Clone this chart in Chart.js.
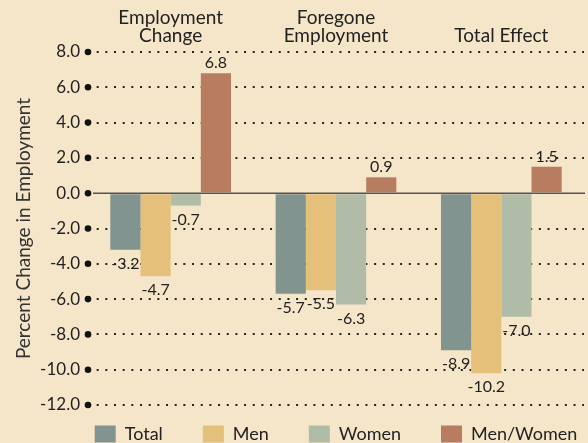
<!DOCTYPE html>
<html>
<head>
<meta charset="utf-8">
<script src="https://cdn.jsdelivr.net/npm/chart.js@4.4.1/dist/chart.umd.min.js"></script>
<style>
    html, body { margin: 0; padding: 0; background: #f5e6ca; }
    #wrap { width: 588px; height: 443px; position: relative; }
</style>
</head>
<body>
<div id="wrap"><canvas id="employment-chart"></canvas></div>
<script>
// Chart data
const categories = [['Employment', 'Change'], ['Foregone', 'Employment'], 'Total Effect'];
const seriesNames = ['Total', 'Men', 'Women', 'Men/Women'];
const totalValues = [-3.2, -5.7, -8.9];
const menValues = [-4.7, -5.5, -10.2];
const womenValues = [-0.7, -6.3, -7.0];
const ratioValues = [6.8, 0.9, 1.5];
const yMin = -12;
const yMax = 8;
const yStep = 2;

const seriesColors = ['#82948f', '#e4c07b', '#b0bca7', '#b87c61'];
const fontFamily = 'Lato, "Open Sans", sans-serif';
const textColor = '#222';

// big dots at each tick + solid zero line
const axisDecor = {
    id: 'axisDecor',
    afterDatasetsDraw(chart) {
        const ctx = chart.ctx;
        const y = chart.scales.y;
        const area = chart.chartArea;
        ctx.save();
        ctx.fillStyle = '#111';
        y.ticks.forEach(t => {
            ctx.beginPath();
            ctx.arc(area.left, y.getPixelForValue(t.value), 3.3, 0, Math.PI * 2);
            ctx.fill();
        });
        const zero = y.getPixelForValue(0);
        ctx.strokeStyle = '#555';
        ctx.lineWidth = 1.5;
        ctx.beginPath();
        ctx.moveTo(area.left + 5, zero);
        ctx.lineTo(area.right + 1, zero);
        ctx.stroke();
        ctx.restore();
    }
};

// value labels above / below the bars
const valueLabels = {
    id: 'valueLabels',
    afterDatasetsDraw(chart) {
        const ctx = chart.ctx;
        ctx.save();
        ctx.font = '16px ' + fontFamily;
        ctx.fillStyle = textColor;
        ctx.textAlign = 'center';
        chart.data.datasets.forEach((ds, i) => {
            chart.getDatasetMeta(i).data.forEach((bar, j) => {
                const v = ds.data[j];
                const txt = v.toFixed(1);
                if (v >= 0) {
                    ctx.textBaseline = 'bottom';
                    ctx.fillText(txt, bar.x, bar.y - 2);
                } else {
                    ctx.textBaseline = 'top';
                    ctx.fillText(txt, bar.x, bar.y + 6);
                }
            });
        });
        ctx.restore();
    }
};

// legend: wider spacing between items without a tall legend box
const legendPlacement = {
    id: 'legendPlacement',
    beforeInit(chart) {
        const fit = chart.legend.fit;
        chart.legend.fit = function () {
            fit.call(this);
            this.height = 38;
        };
    },
    afterLayout(chart) {
        const lg = chart.legend;
        const area = chart.chartArea;
        const shift = (area.left + area.right) / 2 - (lg.left + lg.right) / 2;
        lg.left += shift;
        lg.right += shift;
        lg.top = area.bottom + 20 - lg.options.labels.padding;
    }
};

const datasetValues = [totalValues, menValues, womenValues, ratioValues];

const ctx = document.getElementById('employment-chart').getContext('2d');
const myChart = new Chart(ctx, {
    type: 'bar',
    data: {
        labels: categories,
        datasets: seriesNames.map((name, i) => ({
            label: name,
            data: datasetValues[i],
            backgroundColor: seriesColors[i],
            borderWidth: 0,
            categoryPercentage: 0.73,
            barPercentage: 1.0
        }))
    },
    options: {
        responsive: true,
        maintainAspectRatio: false,
        animation: false,
        layout: { padding: { top: 0, right: 4, bottom: 0, left: 0 } },
        scales: {
            x: {
                position: 'top',
                grid: { display: false, drawTicks: false },
                border: { display: false },
                ticks: {
                    color: textColor,
                    padding: 8,
                    maxRotation: 0,
                    font: { family: fontFamily, size: 19, lineHeight: 0.9 }
                },
                afterFit: (scale) => { scale.height = 52; }
            },
            y: {
                min: yMin,
                max: yMax,
                grid: {
                    color: (c) => c.tick && c.tick.value === 0 ? 'rgba(0,0,0,0)' : '#222',
                    lineWidth: 2,
                    drawTicks: false
                },
                border: { display: false, dash: [2, 6.67] },
                ticks: {
                    stepSize: yStep,
                    color: textColor,
                    padding: 8,
                    font: { family: fontFamily, size: 17 },
                    callback: (v) => v.toFixed(1)
                },
                title: {
                    display: true,
                    text: 'Percent Change in Employment',
                    color: '#333',
                    padding: { top: 12, bottom: 0 },
                    font: { family: fontFamily, size: 19 }
                },
                afterFit: (scale) => { scale.width = 88; }
            }
        },
        plugins: {
            legend: {
                position: 'bottom',
                labels: {
                    boxWidth: 21,
                    boxHeight: 17,
                    padding: 40,
                    color: textColor,
                    font: { family: fontFamily, size: 18 }
                }
            },
            tooltip: { enabled: false }
        }
    },
    plugins: [axisDecor, valueLabels, legendPlacement]
});
</script>
</body>
</html>
